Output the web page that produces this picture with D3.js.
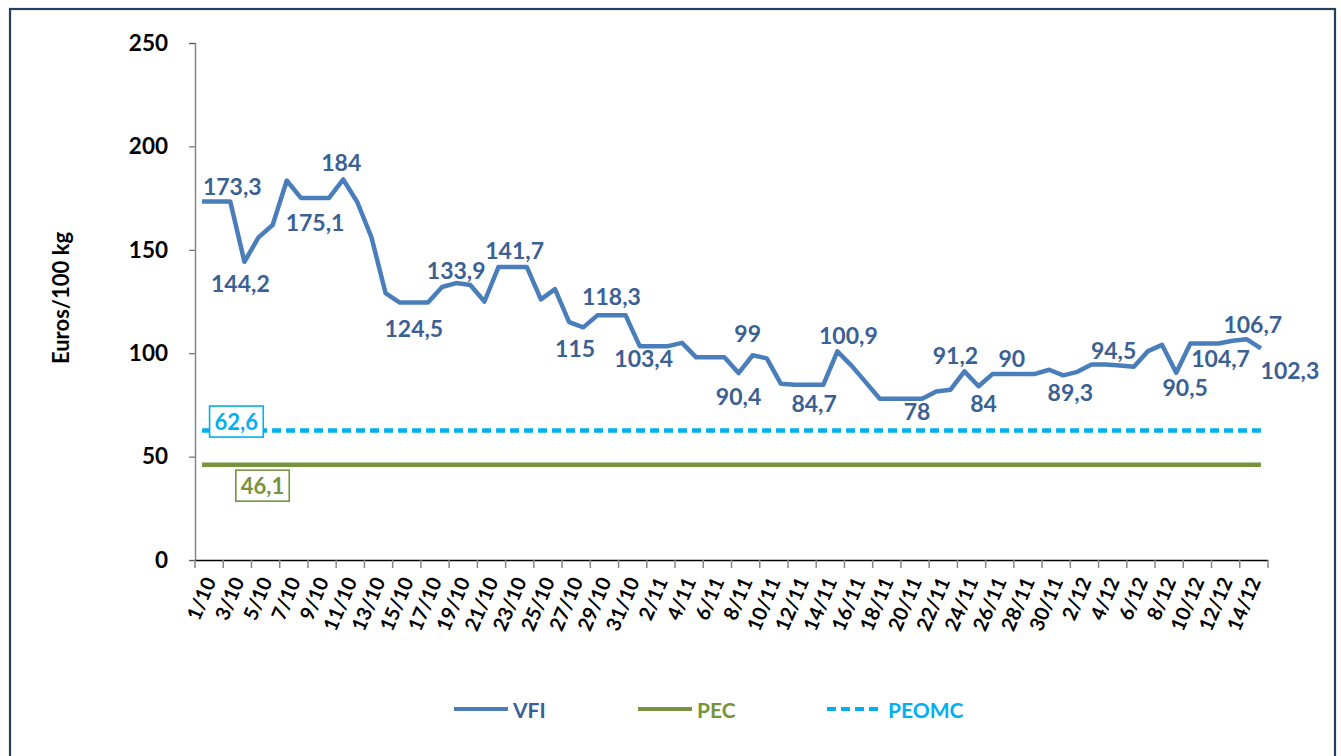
<!DOCTYPE html>
<html><head><meta charset="utf-8">
<script src="https://cdn.jsdelivr.net/npm/d3@7"></script>
<style>
body{margin:0;background:#fff}
svg text{font-family:Lato,"Open Sans",sans-serif;font-weight:bold}
</style>
</head><body>
<svg id="chart" width="1341" height="756"></svg>
<script>
// ---- data ----
const dates = [
 "1/10","2/10","3/10","4/10","5/10","6/10","7/10","8/10","9/10","10/10",
 "11/10","12/10","13/10","14/10","15/10","16/10","17/10","18/10","19/10","20/10",
 "21/10","22/10","23/10","24/10","25/10","26/10","27/10","28/10","29/10","30/10","31/10",
 "1/11","2/11","3/11","4/11","5/11","6/11","7/11","8/11","9/11","10/11",
 "11/11","12/11","13/11","14/11","15/11","16/11","17/11","18/11","19/11","20/11",
 "21/11","22/11","23/11","24/11","25/11","26/11","27/11","28/11","29/11","30/11",
 "1/12","2/12","3/12","4/12","5/12","6/12","7/12","8/12","9/12","10/12",
 "11/12","12/12","13/12","14/12","15/12"
];
const vfi = [
 173.3,173.3,173.3,144.2,156,162,183.5,175.1,175.1,175.1,
 184,173,156,129,124.5,124.5,124.5,132,133.9,133,
 125,141.7,141.7,141.7,126,131,115,112.5,118.3,118.3,118.3,
 103.4,103.4,103.4,105,98,98,98,90.4,99,97.5,
 85.2,84.7,84.7,84.7,100.9,94,86,78,78,78,
 78,81.5,82.3,91.2,84,90,90,90,90,92,
 89.3,91,94.5,94.5,94,93.5,101,104,90.5,104.7,
 104.7,104.7,106,106.7,102.3
];
const pecValue = 46.1;
const peomcValue = 62.6;
const yTicks = [0,50,100,150,200,250];
const seriesNames = ["VFI","PEC","PEOMC"];
// data-label placement: [index, dx, dy]
const labelLayout = [
 [2,2,-16],[3,-4,21],[8,0,24],[10,-2,-17],[15,0,25],[18,0,-13],[22,2,-17],
 [26,6,26],[29,0,-19],[31,4,12],[38,0,23],[39,-5,-22],[43,5,18],[45,11,-16],
 [50,9,12],[54,-9,-16],[55,5,17],[57,5,-16],[61,7,17],[64,8,-15],[69,9,14],
 [72,2,15],[74,6,-15],[75,29,22]
];

// ---- chart ----
const svg = d3.select("#chart");
const C = {vfi:"#4a7ebb", vfiText:"#3a6094", pec:"#77933c", peomc:"#00b0f0"};

svg.append("rect").attr("x",10).attr("y",9).attr("width",1325).attr("height",770)
  .attr("fill","#fff").attr("stroke","#243f60").attr("stroke-width",2.2);

const x = d3.scaleBand().domain(dates).range([195,1268]).padding(0);
const cx = d => x(d) + x.bandwidth()/2;
const y = d3.scaleLinear().domain([0,250]).range([560,43]);

// y axis
const yAxis = svg.append("g").attr("transform","translate(195,0)")
  .call(d3.axisLeft(y).tickValues(yTicks).tickSize(6).tickPadding(21));
yAxis.select(".domain").attr("stroke","#868686").attr("stroke-width",1.5);
yAxis.selectAll(".tick line").attr("stroke","#555");
yAxis.selectAll(".tick text").attr("font-size",22.5).attr("fill","#000");

// x axis
const xAxis = svg.append("g").attr("transform","translate(0,560)")
  .call(d3.axisBottom(x).tickSize(0).tickFormat(""));
xAxis.select(".domain").attr("stroke","#000").attr("stroke-width",1.5);
const tickPos = d3.range(0, dates.length + 1, 2).map(i => 195 + i * x.bandwidth());
svg.append("g").selectAll("line").data(tickPos).join("line")
  .attr("x1",d=>d).attr("x2",d=>d).attr("y1",560).attr("y2",568)
  .attr("stroke","#868686").attr("stroke-width",1.5);
svg.append("g").selectAll("text").data(dates.filter((d,i)=>i%2===0)).join("text")
  .attr("transform",d=>`translate(${cx(d)+7},578) rotate(-67)`)
  .attr("text-anchor","end").attr("dominant-baseline","central")
  .attr("font-size",20).attr("fill","#000").text(d=>d);

// y title
svg.append("text").attr("transform","translate(60,298) rotate(-90)")
  .attr("text-anchor","middle").attr("dominant-baseline","central")
  .attr("font-size",22).attr("fill","#000").text("Euros/100 kg");

// reference lines
const xs = cx(dates[0]), xe = cx(dates[dates.length-1]);
svg.append("line").attr("x1",xs).attr("x2",xe).attr("y1",y(pecValue)).attr("y2",y(pecValue))
  .attr("stroke",C.pec).attr("stroke-width",4.5);
svg.append("line").attr("x1",xs).attr("x2",xe).attr("y1",y(peomcValue)).attr("y2",y(peomcValue))
  .attr("stroke",C.peomc).attr("stroke-width",4.5).attr("stroke-dasharray","9,5");

// VFI line
svg.append("path").datum(vfi)
  .attr("d", d3.line().x((d,i)=>cx(dates[i])).y(d=>y(d)))
  .attr("fill","none").attr("stroke",C.vfi).attr("stroke-width",4.5).attr("stroke-linejoin","round");

const fmt = v => String(v).replace(".", ",");
svg.append("g").selectAll("text").data(labelLayout).join("text")
  .attr("x",d=>cx(dates[d[0]])+d[1]).attr("y",d=>y(vfi[d[0]])+d[2])
  .attr("text-anchor","middle").attr("dominant-baseline","central")
  .attr("font-size",23).attr("fill",C.vfiText).text(d=>fmt(vfi[d[0]]));

// boxed labels for reference lines
function boxLabel(val, idx, dx, dy, color){
  const g = svg.append("g");
  const r = g.append("rect");
  const t = g.append("text").attr("x",cx(dates[idx])+dx).attr("y",y(val)+dy)
    .attr("text-anchor","middle").attr("dominant-baseline","central")
    .attr("font-size",22).attr("fill",color).text(fmt(val));
  const b = t.node().getBBox();
  r.attr("x",b.x-5).attr("y",b.y-2).attr("width",b.width+10).attr("height",b.height+4)
   .attr("fill","#fff").attr("stroke",color).attr("stroke-width",1.6);
}
boxLabel(peomcValue, 2, 6, -9, C.peomc);
boxLabel(pecValue, 4, 4, 21, C.pec);

// legend
const legend = [
  {name:seriesNames[0], color:C.vfi, text:C.vfiText, dash:null, x1:454, x2:508},
  {name:seriesNames[1], color:C.pec, text:C.pec, dash:null, x1:638, x2:692},
  {name:seriesNames[2], color:C.peomc, text:C.peomc, dash:"9,5", x1:827, x2:883}
];
const lg = svg.append("g").selectAll("g").data(legend).join("g");
lg.append("line").attr("x1",d=>d.x1).attr("x2",d=>d.x2).attr("y1",709).attr("y2",709)
  .attr("stroke",d=>d.color).attr("stroke-width",4).attr("stroke-dasharray",d=>d.dash);
lg.append("text").attr("x",d=>d.x2+5).attr("y",709).attr("dominant-baseline","central")
  .attr("font-size",21).attr("fill",d=>d.text).text(d=>d.name);
</script>
</body></html>
